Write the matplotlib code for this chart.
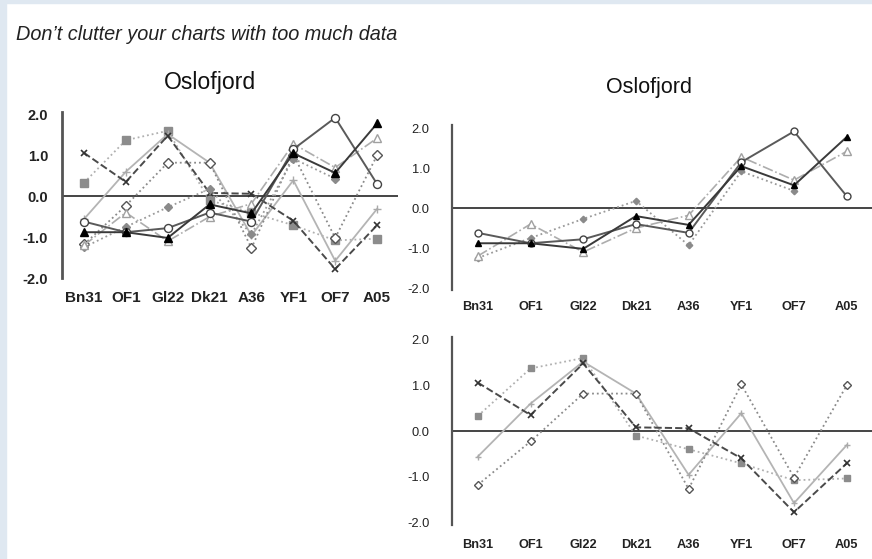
import matplotlib
matplotlib.use('Agg')
import matplotlib.pyplot as plt
import numpy as np
from matplotlib.patches import Rectangle

plt.rcParams['font.family'] = ['Liberation Sans', 'DejaVu Sans']

# ---------------- data ----------------
categories = ['Bn31', 'OF1', 'Gl22', 'Dk21', 'A36', 'YF1', 'OF7', 'A05']
circle_open = [-0.62, -0.88, -0.78, -0.40, -0.62, 1.15, 1.92, 0.30]
tri_filled = [-0.88, -0.88, -1.02, -0.20, -0.42, 1.05, 0.57, 1.78]
tri_open = [-1.20, -0.40, -1.10, -0.50, -0.18, 1.28, 0.70, 1.42]
diamond_gray = [-1.25, -0.75, -0.27, 0.18, -0.93, 0.92, 0.43, np.nan]
x_dark = [1.06, 0.35, 1.48, 0.08, 0.06, -0.60, -1.78, -0.71]
square_gray = [0.33, 1.37, 1.60, -0.10, -0.40, -0.71, -1.08, -1.04]
plus_gray = [-0.56, 0.60, 1.52, 0.82, -0.96, 0.39, -1.58, -0.31]
diamond_open = [-1.18, -0.23, 0.82, 0.82, -1.27, 1.02, -1.02, 1.00]
yticks = [-2.0, -1.0, 0.0, 1.0, 2.0]
title_text = 'Oslofjord'
subtitle = 'Don\u2019t clutter your charts with too much data'

# ---------------- styles ----------------
styles = {
    'circle_open': dict(color='#5a5a5a', ls='-', lw=1.4, marker='o', mfc='white', mec='#444444', mew=1.0, ms=5),
    'tri_filled': dict(color='#3a3a3a', ls='-', lw=1.4, marker='^', mfc='black', mec='black', ms=5),
    'tri_open': dict(color='#adadad', ls='-.', lw=1.2, marker='^', mfc='white', mec='#a0a0a0', mew=1.0, ms=5.5),
    'diamond_gray': dict(color='#9a9a9a', ls=':', lw=1.3, marker='D', mfc='#8a8a8a', mec='#8a8a8a', ms=3.3),
    'x_dark': dict(color='#4a4a4a', ls='--', lw=1.4, marker='x', mfc='#333333', mec='#333333', mew=1.2, ms=4.2),
    'square_gray': dict(color='#b0b0b0', ls=':', lw=1.3, marker='s', mfc='#8c8c8c', mec='#8c8c8c', ms=4.5),
    'plus_gray': dict(color='#b4b4b4', ls='-', lw=1.3, marker='+', mfc='#aaaaaa', mec='#aaaaaa', mew=1.0, ms=5),
    'diamond_open': dict(color='#8a8a8a', ls=':', lw=1.3, marker='D', mfc='white', mec='#555555', mew=1.0, ms=4),
}
data = {
    'circle_open': circle_open, 'tri_filled': tri_filled, 'tri_open': tri_open,
    'diamond_gray': diamond_gray, 'x_dark': x_dark, 'square_gray': square_gray,
    'plus_gray': plus_gray, 'diamond_open': diamond_open,
}

fig = plt.figure(figsize=(8.72, 5.59), dpi=100)
W, H = 872, 559
fig.patches.append(Rectangle((0, 0), 6 / W, 1, transform=fig.transFigure, color='#dfe8f1', zorder=-1))
fig.patches.append(Rectangle((0, 1 - 3 / H), 1, 3 / H, transform=fig.transFigure, color='#dfe8f1', zorder=-1))

fig.text(16 / W, 1 - 35 / H, subtitle, fontsize=14.3, style='italic', color='#222222',
         ha='left', va='center')


def setup(ax, ylim, xlim, ybold, ysize, ypad, xsize, xpad, spine_lw):
    ax.set_xlim(*xlim)
    ax.set_ylim(*ylim)
    for s in ['top', 'right', 'bottom']:
        ax.spines[s].set_visible(False)
    ax.spines['left'].set_color('#555555')
    ax.spines['left'].set_linewidth(spine_lw)
    ax.axhline(0, color='#444444', lw=1.4, zorder=1)
    ax.set_xticks(range(len(categories)))
    ax.set_xticklabels(categories, fontweight='bold', fontsize=xsize, color='#222222')
    ax.set_yticks(yticks)
    ax.set_yticklabels([f'{v:.1f}' for v in yticks], fontweight='bold' if ybold else 'normal',
                       fontsize=ysize, color='#222222')
    ax.tick_params(axis='x', length=0, pad=xpad)
    ax.tick_params(axis='y', length=0, pad=ypad)
    ax.patch.set_alpha(0)


def draw(ax, keys, scale=1.0):
    x = np.arange(len(categories))
    for k in keys:
        st = dict(styles[k])
        st['ms'] = st['ms'] * scale
        ax.plot(x, data[k], zorder=3, **st)


# left: everything
ax1 = fig.add_axes([62 / W, (H - 278) / H, 336 / W, 166 / H])
setup(ax1, (-2.0, 2.06), (-0.525, 7.5), True, 10.5, 10, 11, 9.5, 2.0)
draw(ax1, ['square_gray', 'plus_gray', 'diamond_open', 'x_dark', 'diamond_gray',
           'tri_open', 'circle_open', 'tri_filled'], scale=1.15)
fig.text(210 / W, 1 - 83 / H, title_text, fontsize=16.6, ha='center', va='center', color='#111111')

# top right
ax2 = fig.add_axes([452 / W, (H - 290) / H, 420 / W, 165 / H])
setup(ax2, (-2.05, 2.08), (-0.49, 7.48), False, 9.3, 16, 9.2, 8, 1.6)
draw(ax2, ['diamond_gray', 'tri_open', 'circle_open', 'tri_filled'])
fig.text(649 / W, 1 - 87 / H, title_text, fontsize=15.5, ha='center', va='center', color='#111111')

# bottom right
ax3 = fig.add_axes([452 / W, (H - 525) / H, 420 / W, 188 / H])
setup(ax3, (-2.06, 2.06), (-0.49, 7.48), False, 9.3, 16, 9.2, 10, 1.6)
draw(ax3, ['square_gray', 'plus_gray', 'diamond_open', 'x_dark'])

fig.savefig('out.png', dpi=100, facecolor='white')
